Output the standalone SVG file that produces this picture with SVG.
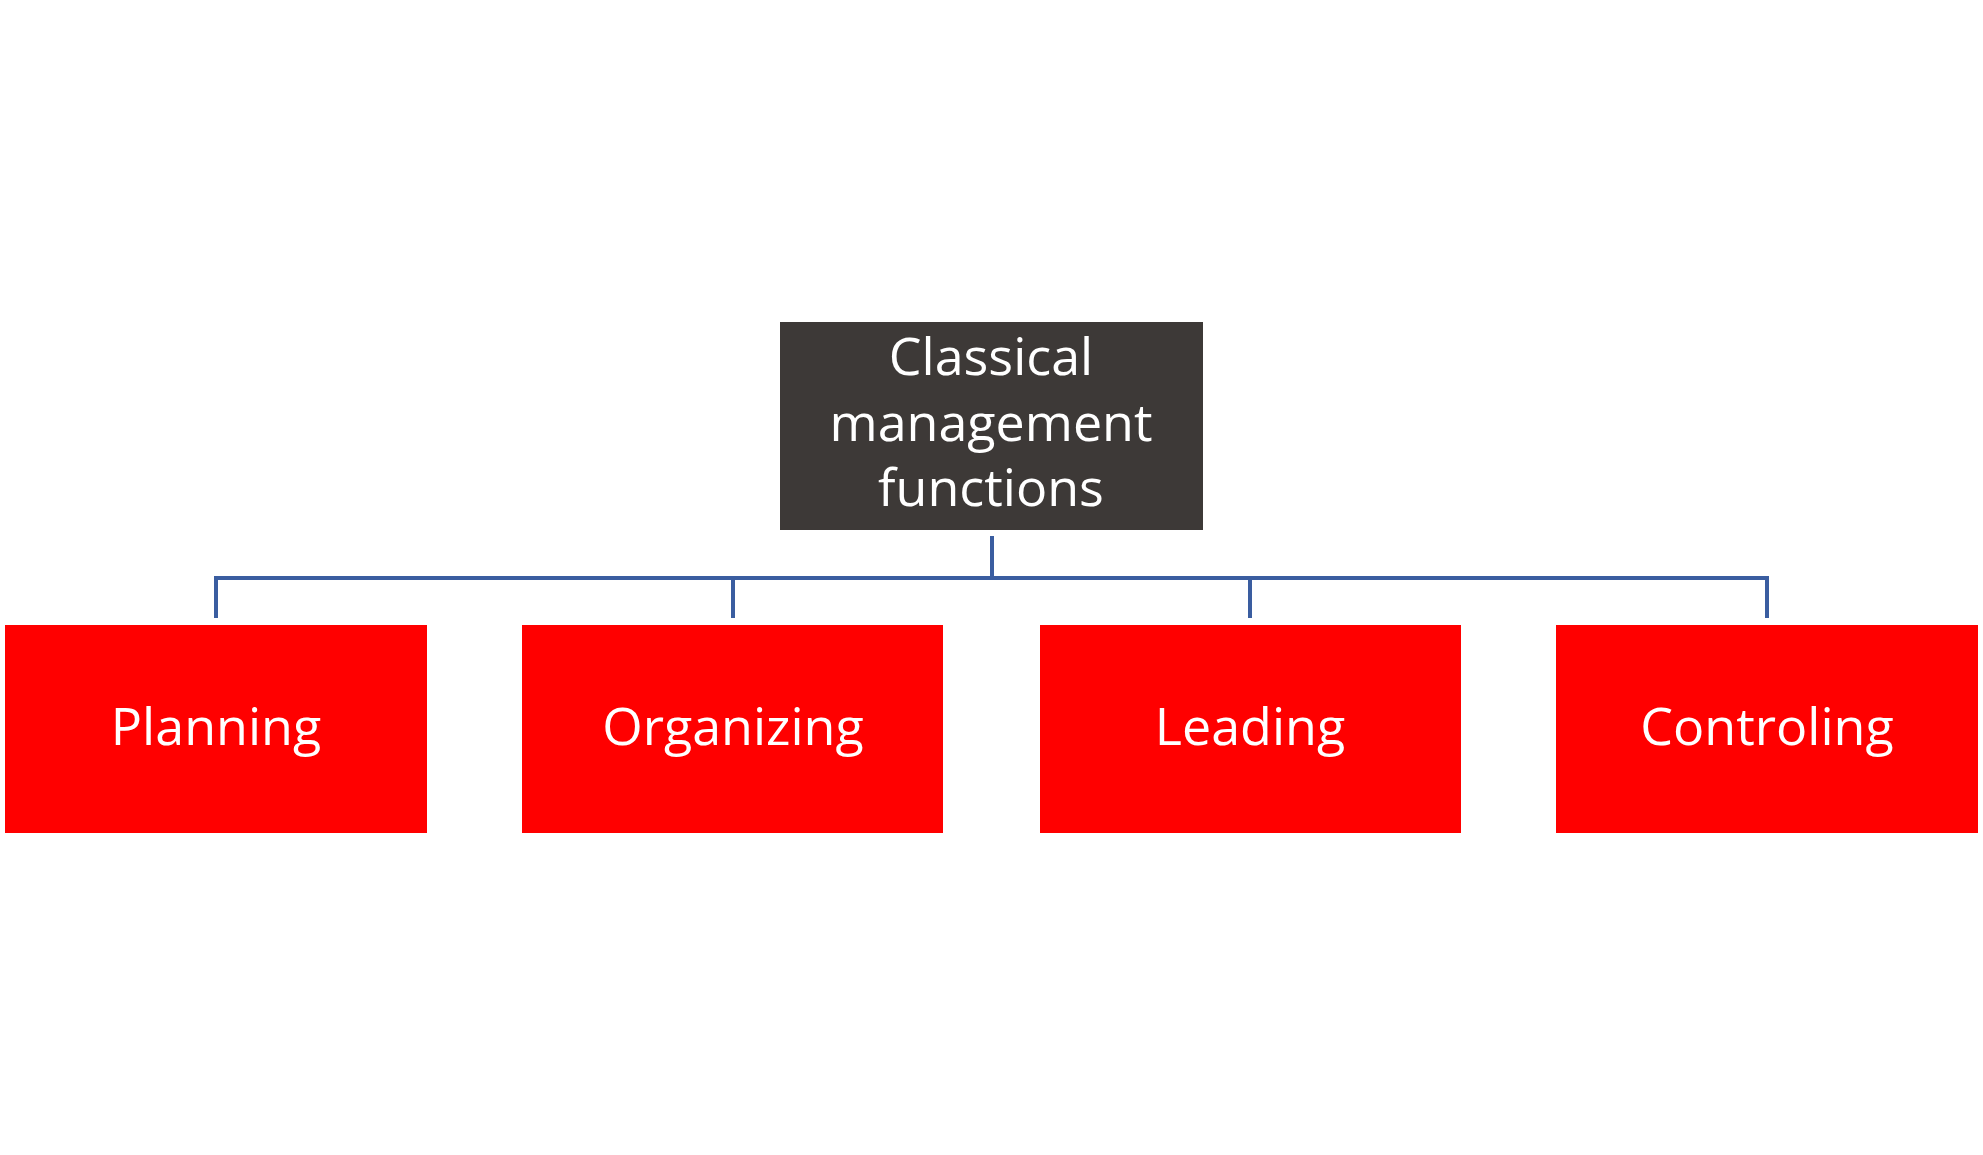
<svg xmlns="http://www.w3.org/2000/svg" width="1983" height="1155" viewBox="0 0 1983 1155">
<style>
.t{font-family:"Open Sans","Liberation Sans",sans-serif;font-size:52px;fill:#fff;text-anchor:middle}
.r{fill:#ff0000}
.c{stroke:#3A5DA0;stroke-width:4;fill:none}
</style>
<rect width="1983" height="1155" fill="#fff"/>
<g id="connectors">
<path class="c" d="M992 536V578M216 618V578H1767V618M733 578V618M1250 578V618"/>
</g>
<g id="root"><rect x="780" y="322" width="423" height="208" fill="#3d3937"/>
<text class="t" x="991" y="375">Classical</text><text class="t" x="991" y="441">management</text><text class="t" x="991" y="506">functions</text></g>
<g id="planning"><rect class="r" x="5" y="625" width="422" height="208"/><text class="t" x="216" y="745">Planning</text></g>
<g id="organizing"><rect class="r" x="522" y="625" width="421" height="208"/><text class="t" x="733" y="745">Organizing</text></g>
<g id="leading"><rect class="r" x="1040" y="625" width="421" height="208"/><text class="t" x="1250" y="745">Leading</text></g>
<g id="controling"><rect class="r" x="1556" y="625" width="422" height="208"/><text class="t" x="1767" y="745">Controling</text></g>
</svg>
